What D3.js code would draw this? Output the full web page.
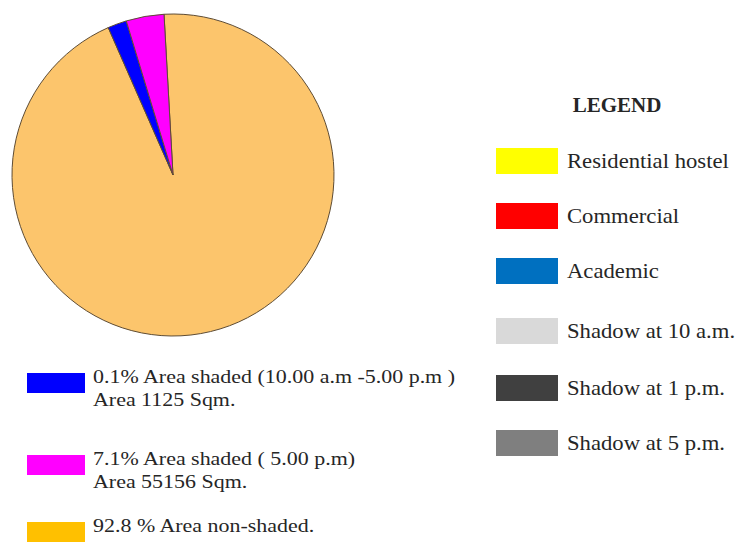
<!DOCTYPE html>
<html><head><meta charset="utf-8">
<script src="https://cdn.jsdelivr.net/npm/d3@7"></script>
<style>html,body{margin:0;padding:0;background:#fff;}svg{display:block;}
text{font-family:"Liberation Serif","Times New Roman",Tinos,"DejaVu Serif",serif;}</style>
</head><body>
<svg id="chart" width="740" height="543"></svg>
<script>
// Pie slices (shares)
const sliceNames = ["Non-shaded", "Shaded 10.00 a.m - 5.00 p.m", "Shaded 5.00 p.m"];
const sliceValues = [94.3, 1.9, 3.8];
const sliceColors = ["#FCC56C", "#0000FF", "#FF00FF"];

// Bottom legend
const noteColors = ["#0000FF", "#FF00FF", "#FFC000"];
const noteLines = [
  ["0.1% Area shaded (10.00 a.m -5.00 p.m )", "Area 1125 Sqm."],
  ["7.1% Area shaded ( 5.00 p.m)", "Area 55156 Sqm."],
  ["92.8 % Area non-shaded."]
];

// Right legend
const legendTitle = "LEGEND";
const legendLabels = ["Residential hostel", "Commercial", "Academic", "Shadow at 10 a.m.", "Shadow at 1 p.m.", "Shadow at 5 p.m."];
const legendColors = ["#FFFF00", "#FF0000", "#0070C0", "#D9D9D9", "#404040", "#7F7F7F"];

const svg = d3.select("#chart");

// ---- Pie ----
const cx = 173, cy = 175, r = 161;
const startA = -3.2 * Math.PI / 180;
const pie = d3.pie().sort(null).value(d => d).startAngle(startA).endAngle(startA + 2 * Math.PI);
const arc = d3.arc().innerRadius(0).outerRadius(r);
const g = svg.append("g").attr("transform", `translate(${cx},${cy})`);
g.selectAll("path").data(pie(sliceValues)).join("path")
  .attr("d", arc)
  .attr("fill", (d, i) => sliceColors[i])
  .attr("stroke", "#5e4c34")
  .attr("stroke-width", 1);

// ---- Bottom legend ----
const noteY = d3.scaleOrdinal().domain([0, 1, 2]).range([373, 455, 522]);
const notes = svg.append("g");
noteLines.forEach((lines, i) => {
  const y0 = noteY(i);
  notes.append("rect").attr("x", 27).attr("y", y0).attr("width", 58).attr("height", 20)
    .attr("fill", noteColors[i]);
  lines.forEach((t, j) => {
    notes.append("text")
      .attr("transform", `translate(93,${y0 + 10 + j * 23}) scale(1.22,1)`)
      .attr("font-size", 18).attr("fill", "#262626")
      .text(t);
  });
});

// ---- Right legend ----
svg.append("text").attr("x", 617).attr("y", 112).attr("text-anchor", "middle")
  .attr("font-size", 21).attr("font-weight", "bold").attr("fill", "#262626")
  .text(legendTitle);
const rowY = d3.scaleOrdinal().domain(d3.range(6)).range([161, 216, 271, 331, 388, 443]);
const leg = svg.append("g");
legendLabels.forEach((lab, i) => {
  const yc = rowY(i);
  leg.append("rect").attr("x", 496).attr("y", yc - 13).attr("width", 62).attr("height", 26)
    .attr("fill", legendColors[i]);
  leg.append("text")
    .attr("transform", `translate(567,${yc + 7}) scale(1.08,1)`)
    .attr("font-size", 21).attr("fill", "#262626")
    .text(lab);
});
</script>
</body></html>
